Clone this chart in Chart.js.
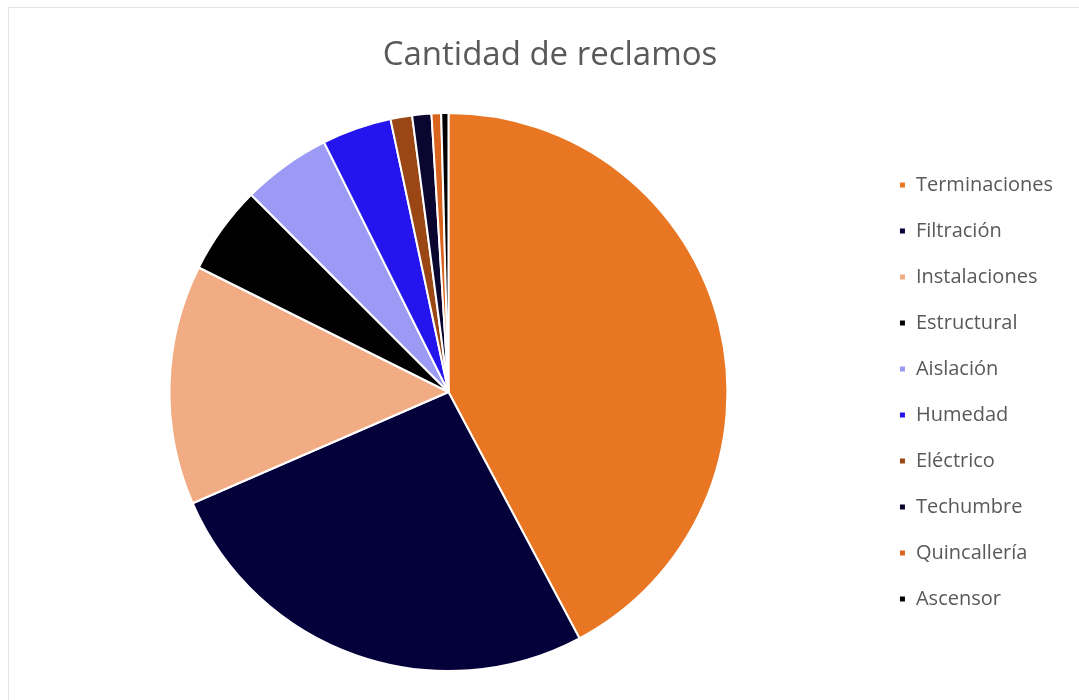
<!DOCTYPE html>
<html>
<head>
<meta charset="utf-8">
<script src="https://cdn.jsdelivr.net/npm/chart.js@4.4.0/dist/chart.umd.min.js"></script>
<style>
  html, body { margin: 0; padding: 0; background: #fff; }
  #wrap { position: relative; width: 1079px; height: 700px; }
  #frame { position: absolute; left: 8px; top: 7px; width: 1080px; height: 700px; border: 1px solid #e4e4e4; pointer-events: none; }
</style>
</head>
<body>
<div id="wrap">
  <canvas id="myChart" width="1079" height="700"></canvas>
  <div id="frame"></div>
</div>
<script>
const categories = ['Terminaciones', 'Filtración', 'Instalaciones', 'Estructural', 'Aislación',
                    'Humedad', 'Eléctrico', 'Techumbre', 'Quincallería', 'Ascensor'];
const reclamos = [304, 189, 100, 37, 37, 29, 9, 8, 4, 3];
const colores = ['#E97623', '#03003A', '#F2AC84', '#000000', '#9B9AF5',
                 '#2414EE', '#9A4715', '#0A0630', '#D9641F', '#000000'];
const titulo = 'Cantidad de reclamos';

// título dibujado aparte: en el original no queda centrado sobre el gráfico
const tituloPlugin = {
    id: 'tituloPlugin',
    afterDraw(chart) {
        const c = chart.ctx;
        c.save();
        c.fillStyle = '#595959';
        c.font = '33px "Open Sans"';
        c.textAlign = 'center';
        c.textBaseline = 'middle';
        c.fillText(titulo, 550, 56);
        c.restore();
    }
};

document.addEventListener('DOMContentLoaded', function () {
    const ctx = document.getElementById('myChart').getContext('2d');
    new Chart(ctx, {
        type: 'pie',
        data: {
            labels: categories,
            datasets: [{
                label: titulo,
                data: reclamos,
                backgroundColor: colores,
                borderColor: '#ffffff',
                borderWidth: 2
            }]
        },
        options: {
            responsive: false,
            animation: false,
            layout: { padding: { left: 24, right: 16, top: 112, bottom: 28 } },
            plugins: {
                legend: {
                    position: 'right',
                    labels: {
                        color: '#595959',
                        font: { family: 'Open Sans', size: 20 },
                        boxWidth: 7,
                        boxHeight: 7,
                        padding: 26
                    }
                },
                tooltip: { enabled: false }
            }
        },
        plugins: [tituloPlugin]
    });
});
</script>
</body>
</html>
